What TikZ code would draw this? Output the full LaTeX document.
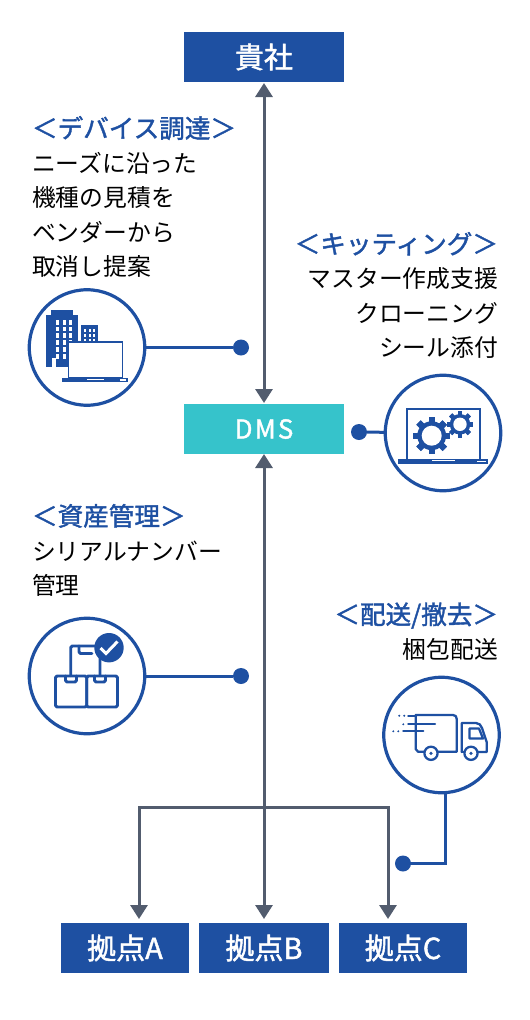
\documentclass[tikz,border=0pt]{standalone}
\usepackage{fontspec}
\setmainfont{Noto Sans CJK JP}
\newfontfamily\medfont[FakeBold=1.5]{Noto Sans CJK JP}
\usetikzlibrary{arrows.meta, calc}
\definecolor{myblue}{RGB}{30, 80, 162}
\definecolor{mygray}{RGB}{82, 92, 110}
\definecolor{myteal}{RGB}{54, 195, 203}
\newcommand{\bodyfont}{\fontsize{23.8}{34.4}\selectfont}
\newcommand{\headfont}{\medfont\fontsize{25.6}{34.4}\selectfont}
\tikzset{
    basebox/.style={fill=myblue, text=white, minimum height=50pt, inner sep=0pt, outer sep=0pt, font=\medfont\fontsize{29}{30}\selectfont},
    iconcircle/.style={circle, draw=myblue, line width=3.2pt, fill=white, minimum size=115.5pt, inner sep=0pt, outer sep=0pt},
    enddot/.style={circle, fill=myblue, minimum size=16pt, inner sep=0pt, outer sep=0pt},
    dotline/.style={myblue, line width=3pt},
    flowline/.style={mygray, line width=3pt},
    flowtip/.style={-{Triangle[length=14pt, width=17pt]}},
    notetext/.style={inner sep=0pt, outer sep=0pt, text=black, font=\bodyfont},
    iconline/.style={myblue, line width=2.3pt, line join=round, line cap=round},
    boxline/.style={myblue, line width=2.9pt, line join=round, line cap=round, rounded corners=1.5pt}
}
\def\drawgear#1#2#3#4{
    \foreach \ang in {0, 45, ..., 315} {
        \fill[myblue, rotate around={\ang:(#1, #2)}] (#1-#3*0.17, #2-#3) rectangle (#1+#3*0.17, #2+#3);
    }
    \fill[myblue] (#1, #2) circle (#3*0.78);
    \fill[white] (#1, #2) circle (#4);
}
\newcommand{\drawoffice}{
    % Big and small building
    \fill[myblue] (51, 310) rectangle (72.7, 315);
    \fill[myblue] (46, 315) rectangle (77.5, 367);
    \fill[myblue] (81, 325) rectangle (97.7, 345);
    \foreach \wx in {56, 62.5, 68.5} {
        \foreach \wy in {320, 326.5, 333, 340, 347, 354} {
            \fill[white] (\wx, \wy) rectangle (\wx+3, \wy+4.5);
        }
    }
    \fill[white] (52, 358) rectangle (56, 367);
    \foreach \wx in {84.5, 89.5, 94} {
        \foreach \wy in {329, 334, 339} {
            \fill[white] (\wx-1, \wy) rectangle (\wx+1.2, \wy+3);
        }
    }
    % Laptop
    \draw[myblue, line width=1.5pt, fill=white] (68.5, 342) rectangle (122.5, 378);
    \fill[myblue] (62.3, 378) rectangle (128.3, 381.7);
    \fill[white] (87, 378.6) rectangle (104, 379.6);
    \fill[white] (120, 379.4) rectangle (126, 380.6);
}
\newcommand{\drawgears}{
    \draw[myblue, line width=2pt] (406.5, 459) -- (406.5, 408.5) -- (479.5, 408.5) -- (479.5, 459);
    \fill[myblue] (397.5, 459) rectangle (488, 463.7);
    \fill[white] (432, 459.8) rectangle (455, 461.2);
    \fill[white] (477, 460.6) rectangle (486, 462);
    \drawgear{431.7}{435.7}{18.5}{10}
    \drawgear{460}{424.3}{13.2}{6.7}
}
\newcommand{\drawboxes}{
    % Two lower boxes and the upper one
    \draw[boxline] (70.7, 675.7) -- (70.7, 646) -- (100, 646) -- (100, 675.7);
    \draw[boxline] (55.5, 676) rectangle (86.7, 707);
    \draw[boxline] (86.7, 676) rectangle (117.5, 707);
    % Tabs
    \draw[boxline] (65.5, 676) -- (65.5, 682) -- (76.5, 682) -- (76.5, 676);
    \draw[boxline] (94.5, 676) -- (94.5, 682) -- (105.5, 682) -- (105.5, 676);
    \draw[boxline] (79, 646) -- (79, 653.5) -- (92, 653.5);
    % Check mark
    \fill[myblue] (109, 647.7) circle (14.7);
    \draw[white, line width=3pt] (100.5, 648) -- (106, 653.5) -- (117.5, 641.5);
}
\newcommand{\drawtruck}{
    % Cargo body
    \draw[iconline] (415.7, 715) -- (453, 715) .. controls (455.5, 715) and (456.7, 716.5) .. (456.7, 719) -- (456.7, 751.7) -- (437.6, 751.7);
    \draw[iconline] (415.7, 715) -- (415.7, 749) -- (418, 751.7) -- (424.4, 751.7);
    % Cab
    \draw[iconline] (461.7, 752) -- (461.7, 723) -- (476, 723) .. controls (479, 723) and (481, 725) .. (482, 728) -- (486.7, 742) -- (486.7, 752) -- (477.6, 752);
    \draw[iconline] (469.5, 728.5) -- (479, 728.5) -- (483, 738.5) -- (469.5, 738.5) -- cycle;
    \draw[iconline] (461.7, 752) -- (464.4, 752);
    % Wheels
    \foreach \wheelx in {431, 471} {
        \draw[iconline] (\wheelx, 753.3) circle (6.6);
        \fill[myblue] (\wheelx, 753.3) circle (1.8);
    }
    % Speed lines
    \draw[iconline] (408.3, 715.7) -- (416, 715.7);
    \draw[iconline] (408.3, 724.3) -- (435, 724.3);
    \draw[iconline] (403.3, 731.3) -- (423.3, 731.3);
    \foreach \px/\py in {399.3/715.7, 404.3/715.7, 403.3/724.3, 393.3/731.3, 398.3/731.3} {
        \fill[myblue] (\px, \py) circle (1.1);
    }
}

\begin{document}
\begin{tikzpicture}[x=1pt, y=-1pt]
    \useasboundingbox (0, 0) rectangle (530, 1020);

    % ----------------------------------------------------
    % Boxes
    % ----------------------------------------------------
    \node[basebox, minimum width=160pt] (kisha) at (264, 57) {貴社};
    \node[basebox, minimum width=160pt, fill=myteal, font=\medfont\fontsize{26}{30}\selectfont\addfontfeature{LetterSpace=8}] (dms) at (264, 429) {DMS};
    \node[basebox, minimum width=128pt] (basea) at (125, 948) {拠点A};
    \node[basebox, minimum width=130pt] (baseb) at (264, 948) {拠点B};
    \node[basebox, minimum width=128pt] (basec) at (403, 948) {拠点C};

    % ----------------------------------------------------
    % Gray flow arrows
    % ----------------------------------------------------
    \coordinate (branch) at (264, 807);
    \draw[flowline, {Triangle[length=14pt, width=17pt]}-{Triangle[length=14pt, width=17pt]}, shorten <=1pt, shorten >=1pt] (kisha) -- (dms);
    \draw[flowline, {Triangle[length=14pt, width=17pt]}-{Triangle[length=14pt, width=17pt]}, shorten >=4pt] (dms) -- (baseb);
    \draw[flowline, flowtip, shorten >=4pt] (branch) -| ([xshift=14pt]basea.north);
    \draw[flowline, flowtip, shorten >=4pt] (branch) -| ([xshift=-15pt]basec.north);

    % ----------------------------------------------------
    % Icon circles and their dots
    % ----------------------------------------------------
    \node[iconcircle] (officecircle) at (87, 347.5) {};
    \node[iconcircle] (gearcircle) at (443, 433) {};
    \node[iconcircle] (stockcircle) at (87, 676) {};
    \node[iconcircle] (truckcircle) at (441.5, 735) {};
    \node[enddot] (officedot) at (241, 347.5) {};
    \node[enddot] (geardot) at (359, 432) {};
    \node[enddot] (stockdot) at (241, 676) {};
    \node[enddot] (truckdot) at (403, 863.5) {};
    \draw[dotline] (officecircle) -- (officedot);
    \draw[dotline] (gearcircle) -- (geardot);
    \draw[dotline] (stockcircle) -- (stockdot);
    \draw[dotline] ([xshift=3.5pt]truckcircle.south) |- (truckdot);

    \drawoffice
    \drawgears
    \drawboxes
    \drawtruck

    % ----------------------------------------------------
    % Notes
    % ----------------------------------------------------
    \node[notetext, anchor=north west, align=left] (devicenote) at (32, 116) {{\headfont\color{myblue}＜デバイス調達＞}\\ニーズに沿った\\機種の見積を\\ベンダーから\\取消し提案};
    \node[notetext, anchor=north east, align=right] (kittingnote) at (498, 232) {{\headfont\color{myblue}＜キッティング＞}\\マスター作成支援\\クローニング\\シール添付};
    \node[notetext, anchor=north west, align=left] (assetnote) at (32, 504) {{\headfont\color{myblue}＜資産管理＞}\\シリアルナンバー\\管理};
    \node[notetext, anchor=north east, align=right] (shipnote) at (498, 602.5) {{\headfont\color{myblue}＜配送/撤去＞}\\梱包配送};
\end{tikzpicture}
\end{document}
